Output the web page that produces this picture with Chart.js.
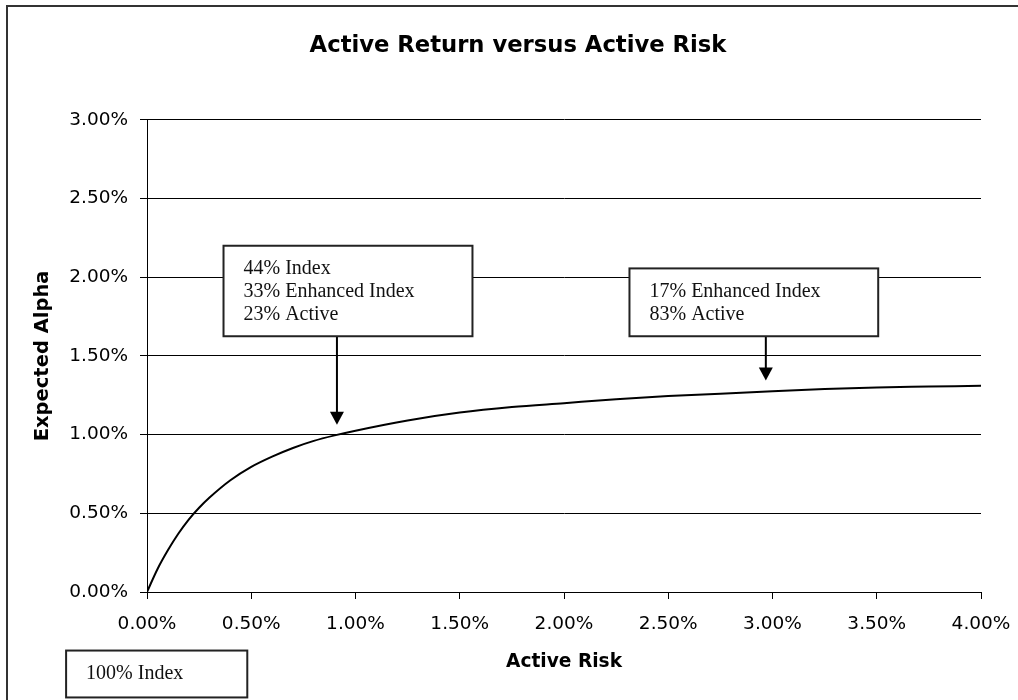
<!DOCTYPE html>
<html>
<head>
<meta charset="utf-8">
<title>Active Return versus Active Risk</title>
<script src="https://cdn.jsdelivr.net/npm/chart.js@4.4.1/dist/chart.umd.min.js"></script>
<style>
  html, body { margin: 0; padding: 0; background: #fff; overflow: hidden; }
  #wrap { position: relative; width: 1036px; height: 712px; }
</style>
</head>
<body>
<div id="wrap"><canvas id="chart"></canvas></div>
<script>
// Active risk (tracking error, %) and the expected alpha (%) of the efficient blend
const activeRisk = [0, 0.05, 0.1, 0.15, 0.2, 0.25, 0.3, 0.4, 0.5, 0.6, 0.7, 0.8, 0.9, 1.0,
                    1.25, 1.5, 1.75, 2.0, 2.25, 2.5, 2.75, 3.0, 3.25, 3.5, 3.75, 4.0];
const expectedAlpha = [0, 0.145, 0.265, 0.37, 0.46, 0.535, 0.60, 0.71, 0.795, 0.86, 0.915, 0.96, 0.995, 1.025,
                       1.09, 1.14, 1.175, 1.20, 1.225, 1.245, 1.26, 1.275, 1.29, 1.30, 1.305, 1.31];

// Axis ranges and tick step (in %)
const xRange = [0, 4];
const yRange = [0, 3];
const tickStep = 0.5;

// Text of the mix call-outs
const mixNotes = [
  ["44% Index", "33% Enhanced Index", "23% Active"],
  ["17% Enhanced Index", "83% Active"],
  ["100% Index"]
];

// Call-out placement in axis units (box corners, arrow column and arrow tip)
const callouts = [
  { x0: 0.367, x1: 1.561, y0: 2.200, y1: 1.625, arrowX: 0.911, tipY: 1.063 },
  { x0: 2.314, x1: 3.507, y0: 2.056, y1: 1.625, arrowX: 2.968, tipY: 1.344 },
  { x0: -0.388, x1: 0.481, y0: -0.372, y1: -0.670 }
];

const SANS = "'DejaVu Sans', 'Liberation Sans', Arial, sans-serif";
const SERIF = "'Liberation Serif', 'Times New Roman', serif";

const calloutPlugin = {
  id: 'callouts',
  beforeDraw(chart) {
    const ctx = chart.ctx;
    ctx.save();
    ctx.fillStyle = '#fff';
    ctx.fillRect(0, 0, chart.width, chart.height);
    ctx.strokeStyle = '#333';
    ctx.lineWidth = 2;
    ctx.strokeRect(7, 6, chart.width + 40, chart.height + 40);
    ctx.restore();
  },
  afterDraw(chart) {
    const ctx = chart.ctx;
    const xs = chart.scales.x, ys = chart.scales.y;
    ctx.save();
    callouts.forEach((c, i) => {
      const l = xs.getPixelForValue(c.x0), r = xs.getPixelForValue(c.x1);
      const t = ys.getPixelForValue(c.y0), b = ys.getPixelForValue(c.y1);
      // arrow from the box down to the curve
      if (c.arrowX !== undefined) {
        const ax = xs.getPixelForValue(c.arrowX);
        const tip = ys.getPixelForValue(c.tipY);
        ctx.strokeStyle = '#000';
        ctx.lineWidth = 2;
        ctx.beginPath();
        ctx.moveTo(ax, b);
        ctx.lineTo(ax, tip - 12);
        ctx.stroke();
        ctx.fillStyle = '#000';
        ctx.beginPath();
        ctx.moveTo(ax - 7, tip - 13);
        ctx.lineTo(ax + 7, tip - 13);
        ctx.lineTo(ax, tip);
        ctx.closePath();
        ctx.fill();
      }
      ctx.fillStyle = '#fff';
      ctx.fillRect(l, t, r - l, b - t);
      ctx.strokeStyle = '#222';
      ctx.lineWidth = 2;
      ctx.strokeRect(l, t, r - l, b - t);
      ctx.fillStyle = '#111';
      ctx.font = '20px ' + SERIF;
      ctx.textAlign = 'left';
      ctx.textBaseline = 'middle';
      mixNotes[i].forEach((line, k) => {
        ctx.fillText(line, l + 20, t + 23 + k * 23);
      });
    });
    ctx.restore();
  }
};

new Chart(document.getElementById('chart'), {
  type: 'scatter',
  data: {
    datasets: [{
      label: 'Efficient blend',
      data: activeRisk.map((x, i) => ({ x: x, y: expectedAlpha[i] })),
      showLine: true,
      borderColor: '#000',
      borderWidth: 2,
      pointRadius: 0,
      cubicInterpolationMode: 'monotone',
      fill: false
    }]
  },
  options: {
    responsive: true,
    maintainAspectRatio: false,
    devicePixelRatio: 1,
    animation: false,
    layout: { padding: 0 },
    plugins: {
      legend: { display: false },
      tooltip: { enabled: false },
      title: {
        display: true,
        text: 'Active Return versus Active Risk',
        color: '#000',
        font: { family: SANS, size: 22.7, weight: 'bold', lineHeight: 1.2 },
        padding: { top: 32, bottom: 60.6 }
      }
    },
    scales: {
      x: {
        type: 'linear',
        min: xRange[0],
        max: xRange[1],
        afterFit(scale) { scale.height = 120; },
        ticks: {
          stepSize: tickStep,
          color: '#000',
          padding: 14,
          maxRotation: 0,
          font: { family: SANS, size: 18.5 },
          callback: v => v.toFixed(2) + '%'
        },
        grid: { drawOnChartArea: false, drawTicks: true, tickLength: 7, color: '#000', lineWidth: 1 },
        border: { display: true, color: '#000', width: 1 },
        title: {
          display: true,
          text: 'Active Risk',
          color: '#000',
          font: { family: SANS, size: 18.6, weight: 'bold', lineHeight: 1.2 },
          padding: { top: 0, bottom: 39 }
        }
      },
      y: {
        type: 'linear',
        min: yRange[0],
        max: yRange[1],
        afterFit(scale) { scale.width = 147; },
        ticks: {
          stepSize: tickStep,
          color: '#000',
          padding: 12,
          font: { family: SANS, size: 18.5 },
          callback: v => v.toFixed(2) + '%'
        },
        grid: { color: '#000', lineWidth: 1, tickLength: 7 },
        border: { display: true, color: '#000', width: 1 },
        title: {
          display: true,
          text: 'Expected Alpha',
          color: '#000',
          font: { family: SANS, size: 19.5, weight: 'bold', lineHeight: 1.2 },
          padding: { top: 31, bottom: 0 }
        }
      },
      // empty right-hand margin beside the plot
      gutter: {
        type: 'linear',
        position: 'right',
        min: yRange[0],
        max: yRange[1],
        afterFit(scale) { scale.width = 55; },
        ticks: { display: false },
        grid: { display: false, drawTicks: false },
        border: { display: false }
      }
    }
  },
  plugins: [calloutPlugin]
});
</script>
</body>
</html>
